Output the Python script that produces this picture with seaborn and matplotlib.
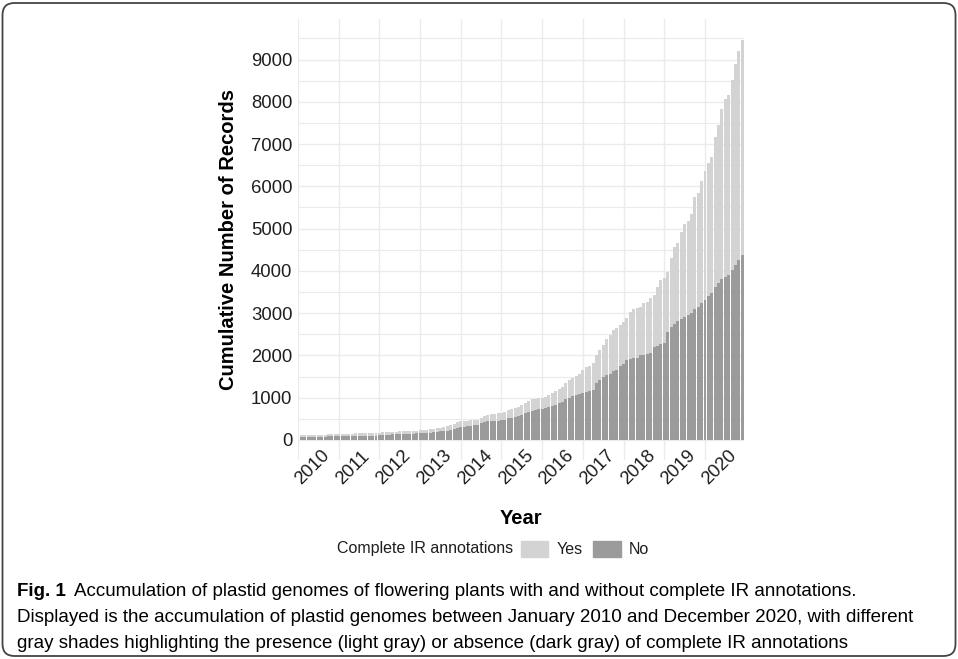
import matplotlib
matplotlib.use("Agg")
import matplotlib.pyplot as plt
import matplotlib.patches as mpatches
from matplotlib.patches import FancyBboxPatch
from matplotlib.ticker import MultipleLocator
from matplotlib.transforms import IdentityTransform
import pandas as pd
import seaborn as sns

# cumulative records per month, Jan 2010 .. Nov 2020
year_labels = [str(y) for y in range(2010, 2021)]

total_records = [
    120, 120, 122, 123, 125, 125, 126, 128, 130, 130, 132, 133,           # 2010
    135, 137, 138, 140, 155, 158, 160, 160, 162, 163, 165, 170,           # 2011
    185, 188, 190, 192, 195, 200, 205, 208, 210, 212, 220, 230,           # 2012
    235, 240, 250, 262, 275, 290, 312, 330, 351, 367, 413, 445,           # 2013
    455, 458, 462, 466, 475, 510, 560, 585, 610, 625, 635, 645,           # 2014
    660, 700, 720, 750, 790, 830, 870, 920, 960, 975, 985, 1000,          # 2015
    1020, 1060, 1100, 1150, 1200, 1250, 1350, 1410, 1470, 1520, 1560, 1650,  # 2016
    1730, 1750, 1810, 2010, 2125, 2245, 2380, 2480, 2600, 2640, 2715, 2800,  # 2017
    2880, 3030, 3090, 3110, 3150, 3230, 3270, 3350, 3430, 3625, 3780, 3820,  # 2018
    3980, 4295, 4570, 4665, 4910, 5110, 5190, 5350, 5745, 5845, 6135, 6370,  # 2019
    6550, 6705, 7170, 7445, 7840, 8060, 8160, 8505, 8905, 9210, 9470,        # 2020
]

no_records = [
    75, 76, 77, 78, 78, 80, 80, 81, 82, 83, 84, 85,
    86, 88, 90, 90, 92, 94, 95, 96, 98, 100, 102, 105,
    120, 125, 128, 130, 140, 145, 148, 150, 150, 152, 160, 165,
    168, 170, 175, 182, 190, 200, 210, 220, 240, 260, 280, 300,
    310, 320, 335, 350, 360, 395, 420, 445, 450, 455, 458, 462,
    470, 510, 520, 550, 570, 600, 640, 670, 690, 705, 720, 740,
    750, 770, 800, 830, 870, 905, 960, 1000, 1030, 1060, 1090, 1120,
    1140, 1150, 1180, 1354, 1420, 1495, 1530, 1560, 1620, 1660, 1750, 1800,
    1890, 1910, 1930, 1940, 2000, 2010, 2030, 2050, 2200, 2220, 2280, 2300,
    2560, 2680, 2740, 2820, 2870, 2915, 2950, 2995, 3097, 3136, 3230, 3310,
    3404, 3483, 3609, 3704, 3798, 3861, 3900, 4019, 4137, 4255, 4373,
]

YES_COLOR = "#D3D3D3"
NO_COLOR = "#9B9B9B"
GRID_COLOR = "#EBEBEB"
TEXT_COLOR = "#1E1E1E"

months = pd.period_range("2010-01", periods=len(total_records), freq="M").astype(str)
df = pd.DataFrame({"month": months, "Total": total_records, "No": no_records})

sns.set_theme(style="whitegrid")
plt.rcParams["font.family"] = ["Liberation Sans", "DejaVu Sans"]

W, H = 958, 659
fig = plt.figure(figsize=(W / 100, H / 100), dpi=100)


def fx(px):
    return px / W


def fy(py):
    return 1 - py / H


ax = fig.add_axes([fx(298), fy(460), fx(744) - fx(298), fy(19) - fy(460)])

# stacked look: total (light) first, then the "No" part (dark) over it
sns.barplot(data=df, x="month", y="Total", color=YES_COLOR, saturation=1,
            width=0.88, errorbar=None, linewidth=0, ax=ax)
sns.barplot(data=df, x="month", y="No", color=NO_COLOR, saturation=1,
            width=0.88, errorbar=None, linewidth=0, ax=ax)

ax.set_xlim(-1, 130.5)
ax.set_ylim(-475, 9960)
ax.set_axisbelow(True)
for s in ax.spines.values():
    s.set_visible(False)

# year ticks sit at the start of each January
ax.set_xticks([12 * i - 1 for i in range(len(year_labels))])
ax.set_xticklabels(year_labels, rotation=45, ha="left", va="center",
                   rotation_mode="anchor", fontsize=13.3, color=TEXT_COLOR)
ax.set_yticks(range(0, 10000, 1000))
ax.set_yticklabels([str(v) for v in range(0, 10000, 1000)], fontsize=13.3, color=TEXT_COLOR)
ax.yaxis.set_minor_locator(MultipleLocator(500))
ax.tick_params(axis="x", length=0, pad=16)
ax.tick_params(axis="y", which="both", length=0, pad=4)

ax.grid(False)
ax.grid(axis="x", which="major", color=GRID_COLOR, linewidth=1.0)
ax.grid(axis="y", which="major", color=GRID_COLOR, linewidth=1.0)
ax.grid(axis="y", which="minor", color=GRID_COLOR, linewidth=0.8)

ax.set_xlabel("Year", fontsize=14.5, fontweight="bold", color="black")
ax.set_ylabel("Cumulative Number of Records", fontsize=14.5, fontweight="bold", color="black")
ax.xaxis.set_label_coords(0.5, (460 - 518) / 441)
ax.xaxis.label.set_va("center")
ax.yaxis.set_label_coords((228 - 298) / 446, 0.5)
ax.yaxis.label.set_va("center")

# legend: title on the left, keys to the right
fig.text(fx(337), fy(549), "Complete IR annotations", fontsize=11.5,
         ha="left", va="center", color=TEXT_COLOR)
handles = [mpatches.Patch(color=YES_COLOR, label="Yes"),
           mpatches.Patch(color=NO_COLOR, label="No")]
fig.legend(handles=handles, ncol=2, loc="center left",
           bbox_to_anchor=(fx(521), fy(549)), frameon=False, fontsize=11.5,
           handlelength=1.7, handleheight=1.15, handletextpad=0.5,
           columnspacing=0.7, borderpad=0, borderaxespad=0,
           labelcolor=TEXT_COLOR)

# caption
cap_font = ["Liberation Sans Narrow", "Liberation Sans", "DejaVu Sans"]
cap_lines = [
    "Accumulation of plastid genomes of flowering plants with and without complete IR annotations.",
    "Displayed is the accumulation of plastid genomes between January 2010 and December 2020, with different",
    "gray shades highlighting the presence (light gray) or absence (dark gray) of complete IR annotations",
]
cap_y = [592, 618, 644]
cap_size = 14
fig_label = fig.text(fx(17), fy(cap_y[0]), "Fig. 1", family=cap_font, fontsize=cap_size,
                     fontweight="bold", ha="left", va="center", color="black")
cap1 = fig.text(0, 0, cap_lines[0], family=cap_font, fontsize=cap_size, color="black")
cap2 = fig.text(fx(17), fy(cap_y[1]), cap_lines[1], family=cap_font, fontsize=cap_size,
                ha="left", va="center", color="black")
cap3 = fig.text(fx(17), fy(cap_y[2]), cap_lines[2], family=cap_font, fontsize=cap_size,
                ha="left", va="center", color="black")

# scale caption so the second line spans the same width as in the figure
fig.canvas.draw()
r = fig.canvas.get_renderer()
scale = (920 - 17) / cap2.get_window_extent(r).width
for t in (fig_label, cap1, cap2, cap3):
    t.set_fontsize(cap_size * scale)
fig.canvas.draw()
bb = fig_label.get_window_extent(r)
cap1.set_transform(IdentityTransform())
cap1.set_position((bb.x1 + 8, bb.y0))
cap1.set_va("bottom")

# rounded frame around the figure panel
frame = FancyBboxPatch((2.5, 3), W - 5, H - 6, boxstyle="round,pad=0,rounding_size=12",
                       transform=IdentityTransform(), fill=False, edgecolor="#444444",
                       linewidth=1.3)
fig.patches.append(frame)

fig.savefig("out.png", dpi=100)
